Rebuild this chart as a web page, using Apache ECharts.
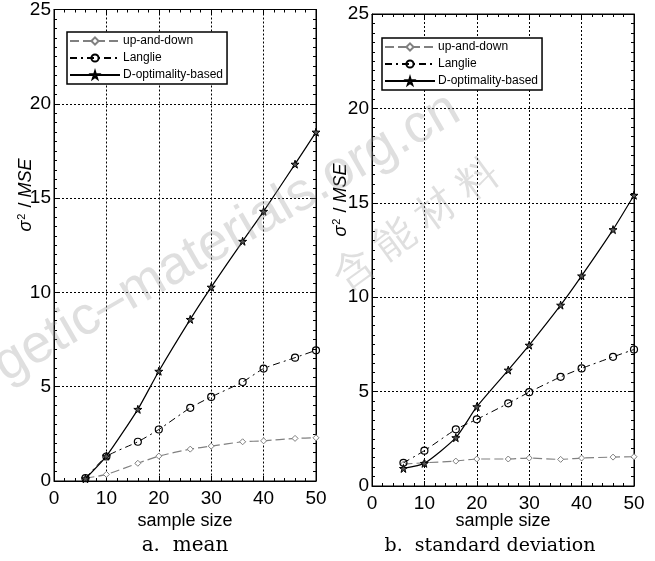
<!DOCTYPE html>
<html>
<head>
<meta charset="utf-8">
<script src="https://cdn.jsdelivr.net/npm/echarts@6/dist/echarts.min.js"></script>
<style>
  html, body { margin: 0; padding: 0; background: #fff; }
  #chart { width: 655px; height: 561px; }
</style>
</head>
<body>
<div id="chart"></div>
<script>
// 样本量
const sampleSizes = [6, 10, 16, 20, 26, 30, 36, 40, 46, 50]
// a. mean
const meanUpDown = [0.15, 0.35, 0.94, 1.32, 1.69, 1.85, 2.08, 2.13, 2.26, 2.29]
const meanLanglie = [0.15, 1.3, 2.08, 2.73, 3.88, 4.46, 5.25, 5.96, 6.54, 6.93]
const meanDopt = [0.12, 1.32, 3.8, 5.82, 8.57, 10.28, 12.71, 14.3, 16.8, 18.5]
// b. standard deviation
const sdUpDown = [1.16, 1.23, 1.32, 1.43, 1.43, 1.48, 1.41, 1.48, 1.53, 1.55]
const sdLanglie = [1.23, 1.87, 3.0, 3.53, 4.38, 4.97, 5.78, 6.23, 6.84, 7.23]
const sdDopt = [0.93, 1.2, 2.56, 4.2, 6.14, 7.46, 9.58, 11.13, 13.58, 15.4]

const seriesNames = ['up-and-down', 'Langlie', 'D-optimality-based']
const xTicks = [0, 10, 20, 30, 40, 50]
const yTicks = [0, 5, 10, 15, 20, 25]

const tickFont = '"Liberation Sans", Arial, sans-serif'
const starPath =
  'path://M50,0 L61,35 L98,35 L68,57 L79,91 L50,70 L21,91 L32,57 L2,35 L39,35 Z'

let myChart = echarts.init(document.getElementById('chart'))

const toPairs = (ys) => sampleSizes.map((x, i) => [x, ys[i]])

// 主坐标轴 + 对侧只画刻度的坐标轴
const makeX = (grid, top) => ({
  type: 'value',
  gridIndex: grid,
  position: top ? 'top' : 'bottom',
  min: xTicks[0],
  max: xTicks[xTicks.length - 1],
  interval: 10,
  axisLine: { show: true, onZero: false, lineStyle: { color: '#000', width: 1 } },
  axisTick: { show: true, inside: true, length: 5, lineStyle: { color: '#000' } },
  minorTick: { show: true, splitNumber: 5, length: 3, lineStyle: { color: '#000' } },
  axisLabel: {
    show: !top,
    color: '#000',
    fontFamily: tickFont,
    fontSize: 19,
    margin: 8
  },
  splitLine: {
    show: !top,
    lineStyle: { color: '#000', type: [2, 2], width: 1 }
  }
})
const makeY = (grid, right) => ({
  type: 'value',
  gridIndex: grid,
  position: right ? 'right' : 'left',
  min: yTicks[0],
  max: yTicks[yTicks.length - 1],
  interval: 5,
  axisLine: { show: true, onZero: false, lineStyle: { color: '#000', width: 1 } },
  axisTick: { show: true, inside: true, length: 5, lineStyle: { color: '#000' } },
  minorTick: { show: true, splitNumber: 10, length: 3, lineStyle: { color: '#000' } },
  axisLabel: {
    show: !right,
    color: '#000',
    fontFamily: tickFont,
    fontSize: 19,
    margin: 3
  },
  splitLine: {
    show: !right,
    lineStyle: { color: '#000', type: [2, 2], width: 1 }
  }
})

const makeSeries = (grid, upDown, langlie, dopt) => [
  {
    name: seriesNames[0],
    type: 'line',
    xAxisIndex: grid * 2,
    yAxisIndex: grid * 2,
    data: toPairs(upDown),
    smooth: 0.2,
    symbol: 'diamond',
    symbolSize: 6,
    showAllSymbol: true,
    lineStyle: { color: '#808080', width: 1.2, type: [9, 4] },
    itemStyle: { color: '#fff', borderColor: '#808080', borderWidth: 1 },
    z: 3
  },
  {
    name: seriesNames[1],
    type: 'line',
    xAxisIndex: grid * 2,
    yAxisIndex: grid * 2,
    data: toPairs(langlie),
    smooth: 0.2,
    symbol: 'circle',
    symbolSize: 7,
    showAllSymbol: true,
    lineStyle: { color: '#000', width: 1, type: [7, 4, 2, 4] },
    itemStyle: { color: 'rgba(0,0,0,0)', borderColor: '#000', borderWidth: 1.2 },
    z: 4
  },
  {
    name: seriesNames[2],
    type: 'line',
    xAxisIndex: grid * 2,
    yAxisIndex: grid * 2,
    data: toPairs(dopt),
    smooth: 0.2,
    symbol: starPath,
    symbolSize: 8,
    showAllSymbol: true,
    lineStyle: { color: '#000', width: 1.2, type: 'solid' },
    itemStyle: { color: '#555', borderColor: '#000', borderWidth: 1 },
    z: 5
  }
]

const makeLegend = (left, top) => ({
  left: left,
  top: top,
  orient: 'vertical',
  data: seriesNames,
  itemWidth: 50,
  itemHeight: 9,
  itemGap: 5,
  padding: [3, 4, 3, 2],
  borderColor: '#000',
  borderWidth: 1.5,
  backgroundColor: '#fff',
  selectedMode: false,
  textStyle: { color: '#000', fontFamily: tickFont, fontSize: 12, padding: [0, 0, 0, -2] }
})

const yName = (x, y) => ({
  type: 'text',
  x: x,
  y: y,
  rotation: Math.PI / 2,
  style: {
    text: '{i|σ}{s|2} / {i|MSE}',
    fill: '#000',
    align: 'center',
    verticalAlign: 'middle',
    font: '18px ' + tickFont,
    rich: {
      i: { fontStyle: 'italic', fontSize: 18, fontFamily: tickFont },
      s: { fontSize: 11, fontFamily: tickFont, verticalAlign: 'top', padding: [0, 1, 9, 1] }
    }
  },
  z: 10
})

const plainText = (x, y, text, font) => ({
  type: 'text',
  x: x,
  y: y,
  style: { text: text, fill: '#000', align: 'center', verticalAlign: 'middle', font: font },
  z: 10
})

// 水印
const watermark = (x, y, text, deg, size) => ({
  type: 'text',
  x: x,
  y: y,
  rotation: (deg * Math.PI) / 180,
  style: {
    text: text,
    fill: 'rgba(150,150,150,0.3)',
    align: 'left',
    verticalAlign: 'bottom',
    font: size + 'px "Liberation Sans", Arial, sans-serif'
  },
  z: 100,
  silent: true
})

const option = {
  backgroundColor: '#fff',
  animation: false,
  grid: [
    { left: 54, top: 8, width: 262, height: 473, show: true, borderColor: '#000', borderWidth: 1 },
    { left: 372, top: 14, width: 262, height: 472, show: true, borderColor: '#000', borderWidth: 1 }
  ],
  xAxis: [makeX(0, false), makeX(0, true), makeX(1, false), makeX(1, true)],
  yAxis: [makeY(0, false), makeY(0, true), makeY(1, false), makeY(1, true)],
  legend: [makeLegend(67, 32), makeLegend(382, 38)],
  series: [
    ...makeSeries(0, meanUpDown, meanLanglie, meanDopt),
    ...makeSeries(1, sdUpDown, sdLanglie, sdDopt)
  ],
  graphic: [
    yName(26, 195),
    yName(341, 200),
    plainText(185, 521, 'sample size', '18px ' + tickFont),
    plainText(503, 521, 'sample size', '18px ' + tickFont),
    plainText(185, 546, 'a.  mean', '20px "DejaVu Serif", serif'),
    plainText(490, 546, 'b.  standard deviation', '19px "DejaVu Serif", serif'),
    watermark(-4, 402, 'rgetic–materials.org.cn', 30, 54),
    watermark(350, 298, '含 能 材 料', 36, 40)
  ]
}

myChart.setOption(option)
</script>
</body>
</html>
